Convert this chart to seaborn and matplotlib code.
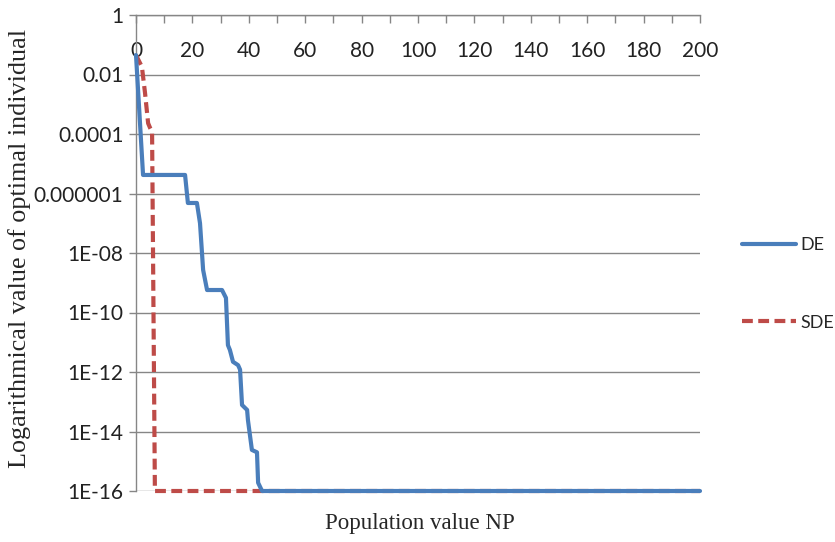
import matplotlib
matplotlib.use("Agg")
import matplotlib.pyplot as plt
import matplotlib.ticker as mticker
import seaborn as sns

# ==========================================
# Data
# ==========================================

de_np = [0, 2.5, 17.4, 18.4, 21.6, 22.7, 23.8, 25.2, 30.5, 31.9, 32.6, 33.3,
         34.4, 36.2, 36.9, 37.6, 39.4, 39.7, 41.1, 42.9, 43.3, 44.7, 200]
de_val = [4.5e-2, 4.2e-6, 4.2e-6, 4.8e-7, 4.8e-7, 1.0e-7, 2.7e-9, 5.7e-10,
          5.7e-10, 3.1e-10, 8e-12, 5.5e-12, 2.2e-12, 1.7e-12, 1.2e-12, 7.8e-14,
          5.3e-14, 2.4e-14, 2.4e-15, 2.0e-15, 1.9e-16, 1e-16, 1e-16]

sde_np = [0, 2.1, 3.2, 4.3, 5.0, 5.7, 6.7, 200]
sde_val = [4.5e-2, 1.8e-2, 2.4e-3, 2.3e-4, 1.6e-4, 1.2e-4, 1e-16, 1e-16]

x_ticks = [0, 20, 40, 60, 80, 100, 120, 140, 160, 180, 200]
y_ticks = [1, 1e-2, 1e-4, 1e-6, 1e-8, 1e-10, 1e-12, 1e-14, 1e-16]
y_labels = ["1", "0.01", "0.0001", "0.000001", "1E-08", "1E-10",
            "1E-12", "1E-14", "1E-16"]

sns.set_style("white")
plt.rcParams["font.family"] = ["Lato", "DejaVu Sans"]

fig = plt.figure(figsize=(8.35, 5.42), dpi=100)
ax = fig.add_axes([136 / 835, 1 - 491 / 542, 564 / 835, 476 / 542])

sns.lineplot(x=sde_np, y=sde_val, ax=ax, color="#BE4B48", linewidth=3,
             estimator=None, sort=False, label="SDE",
             dashes=False, zorder=3, clip_on=False)
ax.lines[-1].set_dashes((2.6, 1.3))
sns.lineplot(x=de_np, y=de_val, ax=ax, color="#4A7EBB", linewidth=3,
             estimator=None, sort=False, label="DE", zorder=4, clip_on=False)

ax.set_yscale("log")
ax.set_xlim(0, 200)
ax.set_ylim(1e-16, 1)

# y axis
ax.yaxis.set_major_locator(mticker.FixedLocator(y_ticks))
ax.yaxis.set_major_formatter(mticker.FixedFormatter(y_labels))
ax.yaxis.set_minor_locator(mticker.NullLocator())
ax.tick_params(axis="y", left=True, direction="out", length=5, width=1,
               color="#868686", labelsize=15, labelcolor="#222222", pad=4)
ax.grid(axis="y", color="#868686", linewidth=1)

# x axis sits on the top line, labels below it
ax.xaxis.set_ticks_position("top")
ax.xaxis.set_major_locator(mticker.FixedLocator(x_ticks))
ax.xaxis.set_minor_locator(mticker.MultipleLocator(10))
ax.tick_params(axis="x", which="both", top=True, bottom=False,
               direction="in", length=6, width=1, color="#868686")
ax.tick_params(axis="x", which="major", labeltop=True, labelbottom=False,
               labelsize=15, labelcolor="#222222", pad=-33)

for side in ["right", "bottom"]:
    ax.spines[side].set_visible(False)
for side in ["left", "top"]:
    ax.spines[side].set_color("#868686")
    ax.spines[side].set_linewidth(1)

ax.get_legend().remove()

fig.text(420 / 835, 1 - 523 / 542, "Population value NP",
         family="Liberation Serif", fontsize=16.5, ha="center", va="center")
fig.text(20 / 835, 1 - 248 / 542, "Logarithmical value of optimal individual",
         family="Liberation Serif", fontsize=18.8, ha="center", va="center",
         rotation=90)

handles, labels = ax.get_legend_handles_labels()
order = [labels.index("DE"), labels.index("SDE")]
fig.legend([handles[i] for i in order], [labels[i] for i in order],
           loc="center left", bbox_to_anchor=(742 / 835, 0.476),
           frameon=False, fontsize=13, borderpad=0, borderaxespad=0,
           handlelength=3.0, handletextpad=0.25, labelspacing=3.4)

fig.savefig("out.png", dpi=100)
